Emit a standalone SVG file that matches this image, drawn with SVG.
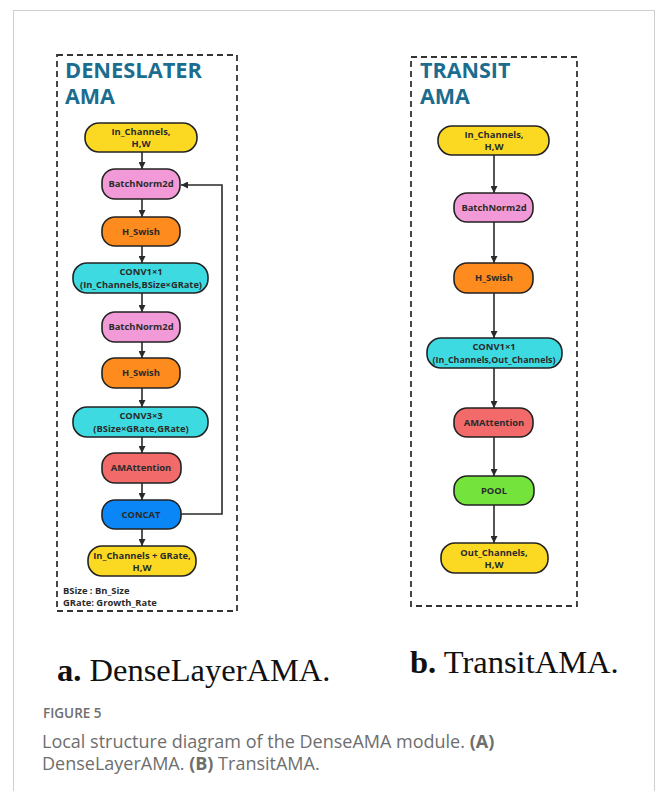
<svg xmlns="http://www.w3.org/2000/svg" width="656" height="791" viewBox="0 0 656 791">
<style>
.n{stroke:#222;stroke-width:1.6}
.t{font-family:"Open Sans","Noto Sans",sans-serif;font-weight:700;font-size:9.4px;fill:#2a2a2a;text-anchor:middle}
.title{font-family:"Open Sans","Noto Sans",sans-serif;font-weight:700;font-size:21.5px;fill:#1b6d8f}
.c{stroke:#2a2a2a;stroke-width:1.6;fill:none}
.box{fill:none;stroke:#333;stroke-width:1.8;stroke-dasharray:6,4}
.y{fill:#fbd923}.p{fill:#f29ad7}.o{fill:#fd8b1d}.cy{fill:#3ddbe1}.r{fill:#f26a6a}.b{fill:#0a86f6}.g{fill:#74e43c}
.cap{font-family:"Liberation Serif","Times New Roman",serif;font-size:32.5px;fill:#111}
.fig{font-family:"Open Sans","Noto Sans",sans-serif;fill:#6e6e6e}
</style>
<defs>
<marker id="ah" viewBox="0 0 10 10" refX="10" refY="5" markerWidth="7" markerHeight="7" markerUnits="userSpaceOnUse" orient="auto">
<path d="M0,0 L10,5 L0,10 z" fill="#2a2a2a"/>
</marker>
</defs>
<rect x="13.5" y="10.5" width="641" height="800" fill="#fff" stroke="#cfcfcf" stroke-width="1"/>

<rect class="box" x="57" y="55" width="180" height="556"/>
<rect class="box" x="411" y="57" width="166" height="549"/>
<g id="title-a">
<text class="title" x="65" y="78" textLength="137" lengthAdjust="spacingAndGlyphs">DENESLATER</text>
<text class="title" x="65" y="104">AMA</text>
</g>
<g id="title-b">
<text class="title" x="420" y="78">TRANSIT</text>
<text class="title" x="420" y="104">AMA</text>
</g>

<g id="connectors">
<line class="c" x1="142" y1="152" x2="142" y2="169" marker-end="url(#ah)"/>
<line class="c" x1="142" y1="199" x2="142" y2="217" marker-end="url(#ah)"/>
<line class="c" x1="142" y1="246" x2="142" y2="263" marker-end="url(#ah)"/>
<line class="c" x1="142" y1="293" x2="142" y2="312" marker-end="url(#ah)"/>
<line class="c" x1="142" y1="342" x2="142" y2="358" marker-end="url(#ah)"/>
<line class="c" x1="142" y1="388" x2="142" y2="407" marker-end="url(#ah)"/>
<line class="c" x1="142" y1="437" x2="142" y2="453" marker-end="url(#ah)"/>
<line class="c" x1="142" y1="483" x2="142" y2="500" marker-end="url(#ah)"/>
<line class="c" x1="142" y1="529" x2="142" y2="546" marker-end="url(#ah)"/>
<polyline class="c" points="181,514 222,514 222,185 181,185" marker-end="url(#ah)"/>
<line class="c" x1="494" y1="155" x2="494" y2="193" marker-end="url(#ah)"/>
<line class="c" x1="494" y1="222" x2="494" y2="263" marker-end="url(#ah)"/>
<line class="c" x1="494" y1="293" x2="494" y2="338" marker-end="url(#ah)"/>
<line class="c" x1="494" y1="368" x2="494" y2="408" marker-end="url(#ah)"/>
<line class="c" x1="494" y1="437" x2="494" y2="476" marker-end="url(#ah)"/>
<line class="c" x1="494" y1="505" x2="494" y2="543" marker-end="url(#ah)"/>
</g>

<g id="l-in"><rect class="n y" x="85" y="123" width="112" height="29" rx="14"/><text class="t" x="141" y="135">In_Channels,</text><text class="t" x="141" y="147">H,W</text></g>
<g id="l-bn1"><rect class="n p" x="102" y="169" width="78" height="30" rx="13"/><text class="t" x="141" y="187">BatchNorm2d</text></g>
<g id="l-hs1"><rect class="n o" x="102" y="217" width="78" height="29" rx="13"/><text class="t" x="141" y="235">H_Swish</text></g>
<g id="l-conv1"><rect class="n cy" x="73" y="263" width="135" height="30" rx="14"/><text class="t" x="141" y="275">CONV1×1</text><text class="t" x="141" y="287.5" textLength="122" lengthAdjust="spacingAndGlyphs">(In_Channels,BSize×GRate)</text></g>
<g id="l-bn2"><rect class="n p" x="102" y="312" width="78" height="30" rx="13"/><text class="t" x="141" y="330">BatchNorm2d</text></g>
<g id="l-hs2"><rect class="n o" x="102" y="358" width="78" height="30" rx="13"/><text class="t" x="141" y="376">H_Swish</text></g>
<g id="l-conv3"><rect class="n cy" x="73" y="407" width="135" height="30" rx="14"/><text class="t" x="141" y="419">CONV3×3</text><text class="t" x="141" y="431.5">(BSize×GRate,GRate)</text></g>
<g id="l-att"><rect class="n r" x="102" y="453" width="79" height="30" rx="13"/><text class="t" x="141" y="471">AMAttention</text></g>
<g id="l-concat"><rect class="n b" x="102" y="500" width="79" height="29" rx="13"/><text class="t" x="141" y="518">CONCAT</text></g>
<g id="l-out"><rect class="n y" x="88" y="546" width="108" height="30" rx="14"/><text class="t" x="142" y="559">In_Channels + GRate,</text><text class="t" x="142" y="571">H,W</text></g>
<g id="legend">
<text class="t" x="63" y="594" style="text-anchor:start">BSize :  Bn_Size</text>
<text class="t" x="63" y="606" style="text-anchor:start">GRate:  Growth_Rate</text>
</g>

<g id="r-in"><rect class="n y" x="438" y="126" width="111" height="29" rx="14"/><text class="t" x="494" y="138">In_Channels,</text><text class="t" x="494" y="150">H,W</text></g>
<g id="r-bn"><rect class="n p" x="454" y="193" width="79" height="29" rx="13"/><text class="t" x="494" y="211">BatchNorm2d</text></g>
<g id="r-hs"><rect class="n o" x="454" y="263" width="79" height="30" rx="13"/><text class="t" x="494" y="281">H_Swish</text></g>
<g id="r-conv"><rect class="n cy" x="427" y="338" width="135" height="30" rx="14"/><text class="t" x="494" y="350">CONV1×1</text><text class="t" x="494" y="362.5" textLength="123" lengthAdjust="spacingAndGlyphs">(In_Channels,Out_Channels)</text></g>
<g id="r-att"><rect class="n r" x="454" y="408" width="79" height="29" rx="13"/><text class="t" x="494" y="426">AMAttention</text></g>
<g id="r-pool"><rect class="n g" x="454" y="476" width="80" height="29" rx="13"/><text class="t" x="494" y="494">POOL</text></g>
<g id="r-out"><rect class="n y" x="441" y="543" width="107" height="30" rx="14"/><text class="t" x="494" y="556">Out_Channels,</text><text class="t" x="494" y="568">H,W</text></g>

<text class="cap" x="57" y="681"><tspan font-weight="700">a.</tspan> DenseLayerAMA.</text>
<text class="cap" x="410" y="673"><tspan font-weight="700">b.</tspan> TransitAMA.</text>
<text class="fig" x="43" y="718" font-size="13.5" font-weight="600">FIGURE 5</text>
<text class="fig" x="42" y="748" font-size="18">Local structure diagram of the DenseAMA module. <tspan font-weight="700">(A)</tspan></text>
<text class="fig" x="42" y="770" font-size="18">DenseLayerAMA. <tspan font-weight="700">(B)</tspan> TransitAMA.</text>
</svg>
